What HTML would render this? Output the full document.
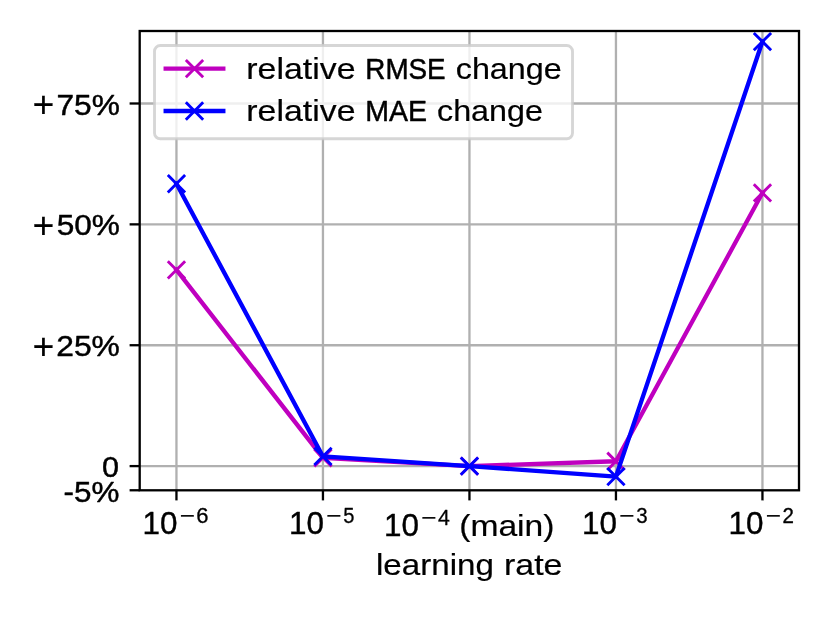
<!DOCTYPE html>
<html lang="en"><head><meta charset="utf-8"><title>relative error change vs learning rate</title>
<style>
html,body{margin:0;padding:0;background:#fff;}
body{width:830px;height:623px;overflow:hidden;}
svg{display:block;will-change:transform;}
text{font-family:"Liberation Sans",sans-serif;fill:#000;stroke:#000;stroke-width:0.2;stroke-linejoin:round;}
.grid line{stroke:#b0b0b0;stroke-width:2.31;}
.ticks line{stroke:#000;stroke-width:2.31;}
.spines{fill:none;stroke:#000;stroke-width:2.31;stroke-linejoin:miter;}
.ln{fill:none;stroke-width:4.33;stroke-linejoin:round;stroke-linecap:square;}
.mk{fill:none;stroke-width:2.88;stroke-linecap:butt;}
.m{stroke:#bf00bf;}.b{stroke:#0000ff;}
</style></head><body>
<svg role="img" aria-label="Line chart: relative RMSE and MAE change versus learning rate" width="830" height="623" viewBox="0 0 830 623">
<rect width="830" height="623" fill="#ffffff"/>
<defs><clipPath id="axclip"><rect x="139.7" y="31" width="659.3" height="459.3"/></clipPath>
</defs>
<g class="grid">
<line x1="176.45" y1="31" x2="176.45" y2="490.3"/>
<line x1="322.95" y1="31" x2="322.95" y2="490.3"/>
<line x1="469.45" y1="31" x2="469.45" y2="490.3"/>
<line x1="615.95" y1="31" x2="615.95" y2="490.3"/>
<line x1="762.45" y1="31" x2="762.45" y2="490.3"/>
<line x1="139.7" y1="466.1" x2="799" y2="466.1"/>
<line x1="139.7" y1="345.23" x2="799" y2="345.23"/>
<line x1="139.7" y1="224.36" x2="799" y2="224.36"/>
<line x1="139.7" y1="103.49" x2="799" y2="103.49"/>
</g>
<g class="ticks">
<line x1="176.45" y1="490.3" x2="176.45" y2="500.4"/>
<line x1="322.95" y1="490.3" x2="322.95" y2="500.4"/>
<line x1="469.45" y1="490.3" x2="469.45" y2="500.4"/>
<line x1="615.95" y1="490.3" x2="615.95" y2="500.4"/>
<line x1="762.45" y1="490.3" x2="762.45" y2="500.4"/>
<line x1="129.6" y1="490.27" x2="139.7" y2="490.27"/>
<line x1="129.6" y1="466.1" x2="139.7" y2="466.1"/>
<line x1="129.6" y1="345.23" x2="139.7" y2="345.23"/>
<line x1="129.6" y1="224.36" x2="139.7" y2="224.36"/>
<line x1="129.6" y1="103.49" x2="139.7" y2="103.49"/>
</g>
<g clip-path="url(#axclip)">
<polyline class="ln m" points="176.45,269.81 322.95,457.88 469.45,466.1 615.95,461.27 762.45,192.94"/>
<path class="mk m" d="M167.8 261.16L185.1 278.46M167.8 278.46L185.1 261.16"/>
<path class="mk m" d="M314.3 449.23L331.6 466.54M314.3 466.54L331.6 449.23"/>
<path class="mk m" d="M460.8 457.45L478.1 474.75M460.8 474.75L478.1 457.45"/>
<path class="mk m" d="M607.3 452.61L624.6 469.92M607.3 469.92L624.6 452.61"/>
<path class="mk m" d="M753.8 184.28L771.1 201.59M753.8 201.59L771.1 184.28"/>
<polyline class="ln b" points="176.45,183.75 322.95,456.43 469.45,466.1 615.95,476.59 762.45,41.61"/>
<path class="mk b" d="M167.8 175.1L185.1 192.41M167.8 192.41L185.1 175.1"/>
<path class="mk b" d="M314.3 447.78L331.6 465.08M314.3 465.08L331.6 447.78"/>
<path class="mk b" d="M460.8 457.45L478.1 474.75M460.8 474.75L478.1 457.45"/>
<path class="mk b" d="M607.3 467.94L624.6 485.25M607.3 485.25L624.6 467.94"/>
<path class="mk b" d="M753.8 32.96L771.1 50.26M753.8 50.26L771.1 32.96"/>
</g>
<rect class="spines" x="139.7" y="31" width="659.3" height="459.3"/>
<rect x="154.5" y="45.5" width="418" height="93.3" rx="5.77" ry="5.77" fill="#ffffff" fill-opacity="0.8" stroke="#cccccc" stroke-opacity="0.8" stroke-width="2.88"/>
<path class="ln m" d="M165.7 68.7H223.3"/>
<path class="mk m" d="M185.85 60.05L203.15 77.35M185.85 77.35L203.15 60.05"/>
<path class="ln b" d="M165.7 111H223.3"/>
<path class="mk b" d="M185.85 102.35L203.15 119.65M185.85 119.65L203.15 102.35"/>
<text><tspan x="32.57" y="117.16" font-size="37" textLength="21.88" lengthAdjust="spacingAndGlyphs" stroke-width="0.1">+</tspan><tspan x="56.44" y="114.5" font-size="30.3" textLength="63.39" lengthAdjust="spacingAndGlyphs" stroke-width="0.45">75%</tspan></text>
<text><tspan x="32.57" y="238.06" font-size="37" textLength="21.88" lengthAdjust="spacingAndGlyphs" stroke-width="0.1">+</tspan><tspan x="56.66" y="235.4" font-size="30.3" textLength="63.16" lengthAdjust="spacingAndGlyphs" stroke-width="0.45">50%</tspan></text>
<text><tspan x="32.57" y="358.96" font-size="37" textLength="21.88" lengthAdjust="spacingAndGlyphs" stroke-width="0.1">+</tspan><tspan x="56.21" y="356.3" font-size="30.3" textLength="63.62" lengthAdjust="spacingAndGlyphs" stroke-width="0.45">25%</tspan></text>
<text><tspan x="102.01" y="477.2" font-size="30" textLength="16.99" lengthAdjust="spacingAndGlyphs" stroke-width="0.45">0</tspan></text>
<text><tspan x="63.61" y="501.5" font-size="30.3" textLength="55.81" lengthAdjust="spacingAndGlyphs" stroke-width="0.45">-5%</tspan></text>
<text><tspan x="246.35" y="78.7" font-size="30" textLength="109.19" lengthAdjust="spacingAndGlyphs" stroke-width="0.2">relative</tspan> <tspan x="365.31" y="78.7" font-size="30.3" textLength="80.38" lengthAdjust="spacingAndGlyphs" stroke-width="0.5">RMSE</tspan> <tspan x="455.75" y="78.7" font-size="30" textLength="105.99" lengthAdjust="spacingAndGlyphs" stroke-width="0.2">change</tspan></text>
<text><tspan x="246.35" y="121.1" font-size="30" textLength="109.13" lengthAdjust="spacingAndGlyphs" stroke-width="0.2">relative</tspan> <tspan x="365.19" y="121.1" font-size="30.3" textLength="61.79" lengthAdjust="spacingAndGlyphs" stroke-width="0.5">MAE</tspan> <tspan x="437" y="121.1" font-size="30" textLength="105.93" lengthAdjust="spacingAndGlyphs" stroke-width="0.2">change</tspan></text>
<text><tspan x="375.97" y="575.1" font-size="30" textLength="117.9" lengthAdjust="spacingAndGlyphs" stroke-width="0.2">learning</tspan> <tspan x="503.98" y="575.1" font-size="30" textLength="58.53" lengthAdjust="spacingAndGlyphs" stroke-width="0.2">rate</tspan></text>
<text><tspan x="142.61" y="533.7" font-size="31" textLength="34.93" lengthAdjust="spacingAndGlyphs" stroke-width="0.4">10</tspan><tspan x="179.87" y="522.88" font-size="21.4" textLength="15.2" lengthAdjust="spacingAndGlyphs" stroke-width="0.2">−</tspan><tspan x="196.22" y="522.6" font-size="21.4" textLength="12.25" lengthAdjust="spacingAndGlyphs" stroke-width="0.3">6</tspan></text>
<text><tspan x="289.11" y="533.7" font-size="31" textLength="34.93" lengthAdjust="spacingAndGlyphs" stroke-width="0.4">10</tspan><tspan x="326.37" y="522.88" font-size="21.4" textLength="15.2" lengthAdjust="spacingAndGlyphs" stroke-width="0.2">−</tspan><tspan x="343.18" y="522.6" font-size="21.4" textLength="11.17" lengthAdjust="spacingAndGlyphs" stroke-width="0.3">5</tspan></text>
<text><tspan x="384.06" y="535.6" font-size="31" textLength="34.93" lengthAdjust="spacingAndGlyphs" stroke-width="0.4">10</tspan><tspan x="421.32" y="525.28" font-size="21.4" textLength="15.2" lengthAdjust="spacingAndGlyphs" stroke-width="0.2">−</tspan><tspan x="437.88" y="524.5" font-size="21.4" textLength="11.84" lengthAdjust="spacingAndGlyphs" stroke-width="0.3">4</tspan> <tspan x="459.21" y="535.8" font-size="30" textLength="95.27" lengthAdjust="spacingAndGlyphs" stroke-width="0.2">(main)</tspan></text>
<text><tspan x="582.11" y="533.7" font-size="31" textLength="34.93" lengthAdjust="spacingAndGlyphs" stroke-width="0.4">10</tspan><tspan x="619.37" y="522.88" font-size="21.4" textLength="15.2" lengthAdjust="spacingAndGlyphs" stroke-width="0.2">−</tspan><tspan x="636.19" y="522.6" font-size="21.4" textLength="11.37" lengthAdjust="spacingAndGlyphs" stroke-width="0.3">3</tspan></text>
<text><tspan x="728.61" y="533.7" font-size="31" textLength="34.93" lengthAdjust="spacingAndGlyphs" stroke-width="0.4">10</tspan><tspan x="765.87" y="522.88" font-size="21.4" textLength="15.2" lengthAdjust="spacingAndGlyphs" stroke-width="0.2">−</tspan><tspan x="782.38" y="522.6" font-size="21.4" textLength="11.41" lengthAdjust="spacingAndGlyphs" stroke-width="0.35">2</tspan></text>
</svg>
</body></html>
